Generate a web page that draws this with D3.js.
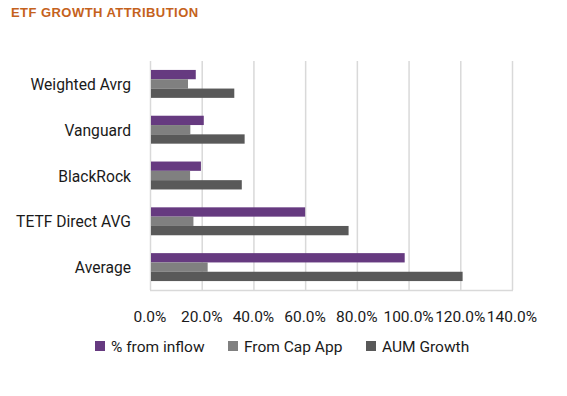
<!DOCTYPE html>
<html>
<head>
<meta charset="utf-8">
<script src="https://cdn.jsdelivr.net/npm/d3@7"></script>
<style>
  body { margin: 0; background: #fff; }
  text { font-family: Roboto, "Liberation Sans", sans-serif; fill: #1a1a1a; }
</style>
</head>
<body>
<script>
// chart data
const categories = ['Weighted Avrg', 'Vanguard', 'BlackRock', 'TETF Direct AVG', 'Average']
const seriesNames = ['% from inflow', 'From Cap App', 'AUM Growth']
const fromInflow = [17.7, 20.8, 19.7, 60.0, 98.5]
const fromCapApp = [14.7, 15.6, 15.5, 16.8, 22.3]
const aumGrowth = [32.6, 36.6, 35.5, 76.8, 120.9]
const xTicks = [0, 20, 40, 60, 80, 100, 120, 140]
const colors = ['#663a80', '#808080', '#595959']

const W = 567
const H = 396
const margin = { top: 61, right: 55, bottom: 106, left: 150 }

const svg = d3.select('body')
  .append('svg')
  .attr('width', W)
  .attr('height', H)

svg.append('text')
  .attr('x', 11)
  .attr('y', 17)
  .style('font-family', '"Liberation Sans", Arial, sans-serif')
  .style('font-weight', 'bold')
  .style('font-size', '13px')
  .style('letter-spacing', '0.45px')
  .style('fill', '#c5621c')
  .text('ETF GROWTH ATTRIBUTION')

const x = d3.scaleLinear()
  .domain([0, 140])
  .range([margin.left, W - margin.right])

const y = d3.scaleBand()
  .domain(categories)
  .range([margin.top, H - margin.bottom])
  .paddingInner(0.39)
  .paddingOuter(0.195)

const ySub = d3.scaleBand()
  .domain(seriesNames)
  .range([0, y.bandwidth()])

// vertical gridlines
svg.append('g')
  .selectAll('line')
  .data(xTicks)
  .join('line')
  .attr('x1', d => x(d) + 0.5)
  .attr('x2', d => x(d) + 0.5)
  .attr('y1', margin.top)
  .attr('y2', H - margin.bottom)
  .attr('stroke', '#d9d9d9')
  .attr('stroke-width', 1.5)

// bottom axis line
svg.append('line')
  .attr('x1', x(0))
  .attr('x2', x(140) + 1)
  .attr('y1', H - margin.bottom + 0.5)
  .attr('y2', H - margin.bottom + 0.5)
  .attr('stroke', '#d9d9d9')
  .attr('stroke-width', 1.5)

const rows = categories.map((c, i) => ({
  cat: c,
  vals: [fromInflow[i], fromCapApp[i], aumGrowth[i]]
}))

const groups = svg.append('g')
  .selectAll('g')
  .data(rows)
  .join('g')
  .attr('transform', d => `translate(0,${y(d.cat)})`)

groups.selectAll('rect')
  .data(d => d.vals.map((v, j) => ({ v, s: seriesNames[j], j })))
  .join('rect')
  .attr('x', x(0) + 1)
  .attr('y', d => ySub(d.s))
  .attr('width', d => x(d.v) - x(0) - 1)
  .attr('height', ySub.bandwidth())
  .attr('fill', d => colors[d.j])

// category labels (reference font is a bit condensed)
svg.append('g')
  .selectAll('text')
  .data(categories)
  .join('text')
  .attr('transform', d => `translate(131,${y(d) + y.bandwidth() / 2 + 6}) scale(0.92,1)`)
  .attr('text-anchor', 'end')
  .style('font-size', '17px')
  .text(d => d)

// tick labels
svg.append('g')
  .selectAll('text')
  .data(xTicks)
  .join('text')
  .attr('x', d => x(d))
  .attr('y', 322)
  .attr('text-anchor', 'middle')
  .style('font-size', '15.5px')
  .text(d => d3.format('.1f')(d) + '%')

// legend
const legendX = [95, 228, 366]
const legend = svg.append('g')
  .selectAll('g')
  .data(seriesNames)
  .join('g')
  .attr('transform', (d, i) => `translate(${legendX[i]},341)`)

legend.append('rect')
  .attr('width', 10)
  .attr('height', 10)
  .attr('fill', (d, i) => colors[i])

legend.append('text')
  .attr('x', 16)
  .attr('y', 11)
  .style('font-size', '15.5px')
  .text(d => d)
</script>
</body>
</html>
